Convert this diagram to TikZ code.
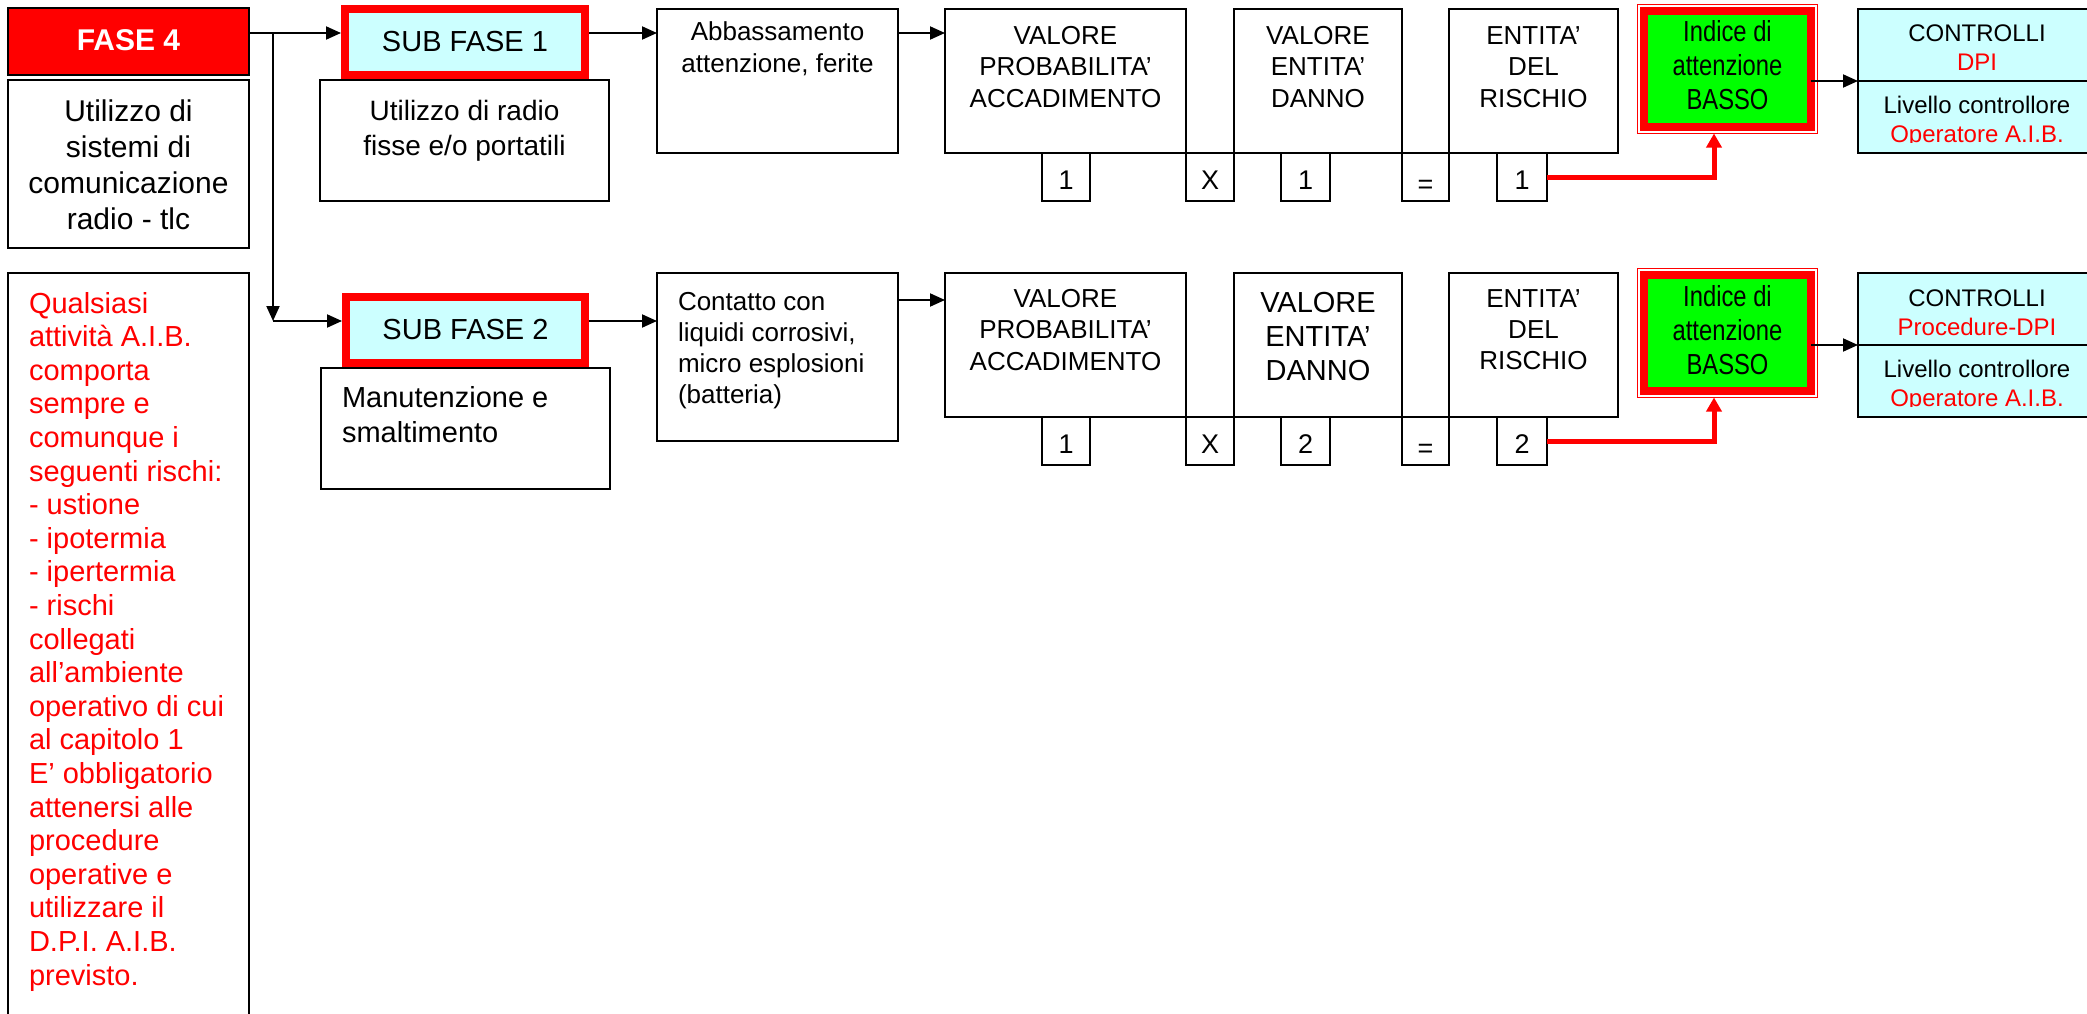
\documentclass[tikz,border=0pt]{standalone}
\usepackage{fontspec}
\setmainfont{Liberation Sans}
\newfontfamily\narrowfont[FakeStretch=0.82]{Liberation Sans}
\usetikzlibrary{arrows.meta,fit}
\definecolor{boxcyan}{RGB}{204,255,255}
\definecolor{alertred}{RGB}{255,0,0}
\definecolor{brightgreen}{RGB}{0,255,0}
\newcommand{\setfs}[2]{\fontsize{#1pt}{#2pt}\selectfont}

\begin{document}
\begin{tikzpicture}[x=1pt,y=-1pt,
  every node/.style={inner sep=0pt,outer sep=0pt},
  box/.style={draw=black,line width=1.6pt,fill=white},
  phasebox/.style={draw=black,line width=1.6pt,fill=alertred,text=white,font=\setfs{30}{36}\bfseries},
  subfase/.style={draw=alertred,line width=8pt,fill=boxcyan,outer sep=4pt,font=\setfs{29}{34}},
  cell/.style={box,text height=24pt,text depth=0pt,font=\setfs{27}{32}},
  index/.style={draw=alertred,line width=8pt,fill=brightgreen},
  indexframe/.style={draw=alertred,line width=1.5pt,inner sep=6.5pt},
  ctrl/.style={draw=black,line width=1.6pt,fill=boxcyan},
  lbl/.style={anchor=north,align=center},
  lbll/.style={anchor=north west,align=left},
  arr/.style={line width=2pt,-{Triangle[length=15pt,width=13pt]}},
  redarr/.style={draw=alertred,line width=5pt,-{Triangle[length=14pt,width=15pt]}},
]
\useasboundingbox (0,0) rectangle (2087,1014);

% ---------- left column ----------
\node[phasebox,minimum width=241pt,minimum height=67pt] (fase) at (128.5,41.5) {\raisebox{2pt}{FASE 4}};
\node[box,minimum width=241pt,minimum height=168pt] (util) at (128.5,164) {};
\node[lbl,font=\setfs{30}{36}] (utilt) at (128.5,95.8)
  {\strut Utilizzo di\\sistemi di\\comunicazione\\radio - tlc};
\node[box,minimum width=241pt,minimum height=767pt] (rischi) at (128.5,656.5) {};
\node[lbll,font=\setfs{29}{33.6},text=alertred] (rischit) at (29,289.5)
  {\strut Qualsiasi\\attività A.I.B.\\comporta\\sempre e\\comunque i\\seguenti rischi:\\- ustione\\- ipotermia\\- ipertermia\\- rischi\\collegati\\all’ambiente\\operativo di cui\\al capitolo 1\\E’ obbligatorio\\attenersi alle\\procedure\\operative e\\utilizzare il\\D.P.I. A.I.B.\\previsto.};

% ---------- row 1 ----------
\node[subfase,minimum width=240pt,minimum height=66pt] (sf1) at (465,42) {\raisebox{2pt}{SUB FASE 1}};
\node[box,minimum width=289pt,minimum height=121pt] (d1) at (464.5,140.5) {};
\node[lbl,font=\setfs{28}{35}] (d1t) at (464.5,95.5) {\strut Utilizzo di radio\\fisse e/o portatili};

\node[box,minimum width=241pt,minimum height=144pt] (ab) at (777.5,81) {};
\node[lbl,font=\setfs{26}{32}] (abt) at (777.5,18.6) {\strut Abbassamento\\attenzione, ferite};

\node[box,minimum width=241pt,minimum height=144pt] (vp1) at (1065.5,81) {};
\node[lbl,font=\setfs{26}{31.5}] (vp1t) at (1065.5,22) {\strut VALORE\\PROBABILITA’\\ACCADIMENTO};
\node[box,minimum width=168pt,minimum height=144pt] (ve1) at (1318,81) {};
\node[lbl,font=\setfs{26}{31.5}] (ve1t) at (1318,22) {\strut VALORE\\ENTITA’\\DANNO};
\node[box,minimum width=169pt,minimum height=144pt] (er1) at (1533.5,81) {};
\node[lbl,font=\setfs{26}{31.5}] (er1t) at (1533.5,22) {\strut ENTITA’\\DEL\\RISCHIO};

\node[cell,minimum width=48pt,minimum height=48pt] (n1a) at (1066,177) {1};
\node[cell,minimum width=48pt,minimum height=48pt] (x1) at (1210,177) {X};
\node[cell,minimum width=49pt,minimum height=48pt] (n1b) at (1305.5,177) {1};
\node[cell,text height=32pt,minimum width=47pt,minimum height=48pt] (eq1) at (1425.5,177) {=};
\node[cell,minimum width=50pt,minimum height=48pt] (n1c) at (1522,177) {1};

\node[index,minimum width=167pt,minimum height=116pt] (ind1) at (1727.5,69) {};
\node[indexframe,fit=(ind1)] (ind1f) {};
\node[lbl,font=\narrowfont\setfs{29}{34}] (ind1t) at (1727.5,18.2) {\strut Indice di\\attenzione\\BASSO};

\node[ctrl,minimum width=238pt,minimum height=144pt] (ctl1) at (1977,81) {};
\draw[line width=1.6pt] (ctl1.west) -- (ctl1.east);
\node[lbl,font=\setfs{24}{29}] (ctl1a) at (1977,21.7) {\strut CONTROLLI\\\textcolor{alertred}{DPI}};
\begin{scope}
  \clip (1858,82) rectangle (2096,142.5);
  \node[lbl,font=\setfs{24}{29}] (ctl1b) at (1977,93.2) {\strut Livello controllore\\\textcolor{alertred}{Operatore A.I.B.}};
\end{scope}

% ---------- row 2 ----------
\node[subfase,minimum width=239pt,minimum height=66pt] (sf2) at (465.5,330) {\raisebox{2pt}{SUB FASE 2}};
\node[box,minimum width=289pt,minimum height=121pt] (d2) at (465.5,428.5) {};
\node[lbll,font=\setfs{29}{35}] (d2t) at (342,382.5) {\strut Manutenzione e\\smaltimento};

\node[box,minimum width=241pt,minimum height=168pt] (co) at (777.5,357) {};
\node[lbll,font=\setfs{26}{31}] (cot) at (678,288.3) {\strut Contatto con\\liquidi corrosivi,\\micro esplosioni\\(batteria)};

\node[box,minimum width=241pt,minimum height=144pt] (vp2) at (1065.5,345) {};
\node[lbl,font=\setfs{26}{31.5}] (vp2t) at (1065.5,285) {\strut VALORE\\PROBABILITA’\\ACCADIMENTO};
\node[box,minimum width=168pt,minimum height=144pt] (ve2) at (1318,345) {};
\node[lbl,font=\setfs{29}{34}] (ve2t) at (1318,288.2) {\strut VALORE\\ENTITA’\\DANNO};
\node[box,minimum width=169pt,minimum height=144pt] (er2) at (1533.5,345) {};
\node[lbl,font=\setfs{26}{31}] (er2t) at (1533.5,285.3) {\strut ENTITA’\\DEL\\RISCHIO};

\node[cell,minimum width=48pt,minimum height=48pt] (n2a) at (1066,441) {1};
\node[cell,minimum width=48pt,minimum height=48pt] (x2) at (1210,441) {X};
\node[cell,minimum width=49pt,minimum height=48pt] (n2b) at (1305.5,441) {2};
\node[cell,text height=32pt,minimum width=47pt,minimum height=48pt] (eq2) at (1425.5,441) {=};
\node[cell,minimum width=50pt,minimum height=48pt] (n2c) at (1522,441) {2};

\node[index,minimum width=167pt,minimum height=116pt] (ind2) at (1727.5,333) {};
\node[indexframe,fit=(ind2)] (ind2f) {};
\node[lbl,font=\narrowfont\setfs{29}{34}] (ind2t) at (1727.5,282.2) {\strut Indice di\\attenzione\\BASSO};

\node[ctrl,minimum width=238pt,minimum height=144pt] (ctl2) at (1977,345) {};
\draw[line width=1.6pt] (ctl2.west) -- (ctl2.east);
\node[lbl,font=\setfs{24}{29}] (ctl2a) at (1977,285.7) {\strut CONTROLLI\\\textcolor{alertred}{Procedure-DPI}};
\begin{scope}
  \clip (1858,346) rectangle (2096,406.5);
  \node[lbl,font=\setfs{24}{29}] (ctl2b) at (1977,357.2) {\strut Livello controllore\\\textcolor{alertred}{Operatore A.I.B.}};
\end{scope}

% ---------- connectors ----------
\coordinate (branch) at (273,33);
\coordinate (corner) at (273,321);
\draw[arr] (fase.east |- branch) -- (sf1.west |- branch);
\draw[arr] (branch) -- (corner);
\draw[arr] (corner) -- (sf2.west |- corner);
\draw[arr] (sf1.east |- branch) -- (ab.west |- branch);
\draw[arr] (ab.east |- branch) -- (vp1.west |- branch);
\draw[arr] (sf2.east |- corner) -- (co.west |- corner);
\draw[arr] (co.east |- 0,300) -- (vp2.west |- 0,300);

\draw[redarr] (n1c.east) -| (1714,0 |- ind1f.south);
\draw[redarr] (n2c.east) -| (1714,0 |- ind2f.south);

\draw[arr] (ind1.east |- ctl1.west) -- (ctl1.west);
\draw[arr] (ind2.east |- ctl2.west) -- (ctl2.west);
\end{tikzpicture}
\end{document}
